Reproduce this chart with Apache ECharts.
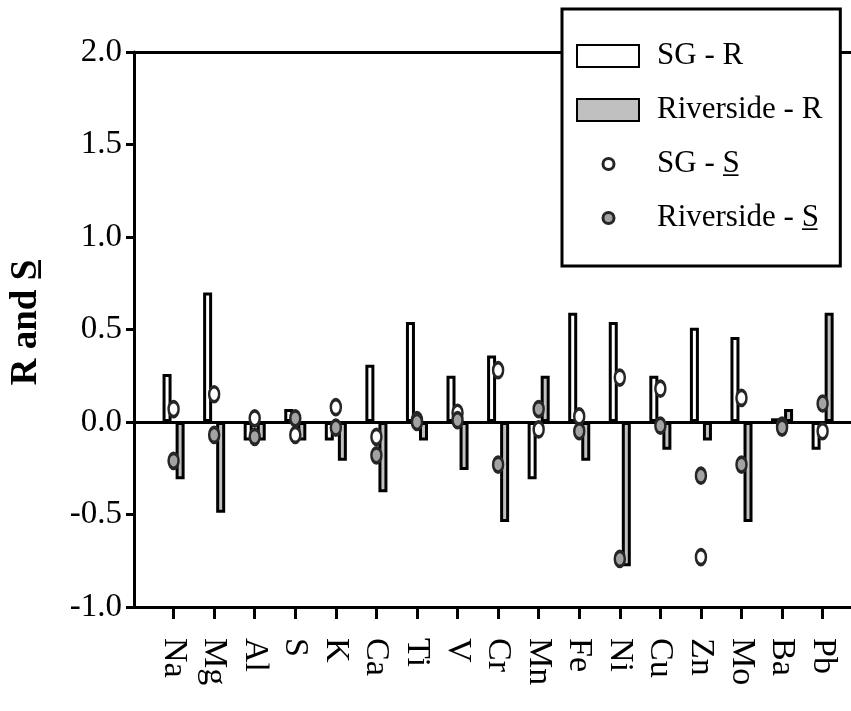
<!DOCTYPE html>
<html>
<head>
<meta charset="utf-8">
<title>R and S by element</title>
<script src="https://cdn.jsdelivr.net/npm/echarts@6/dist/echarts.min.js"></script>
<style>
  html, body { margin: 0; padding: 0; background: #fff; }
  #chart { width: 851px; height: 711px; }
</style>
</head>
<body>
<div id="chart"></div>
<script>
// Elements along the category axis
const categories = ['Na', 'Mg', 'Al', 'S', 'K', 'Ca', 'Ti', 'V', 'Cr', 'Mn', 'Fe', 'Ni', 'Cu', 'Zn', 'Mo', 'Ba', 'Pb'];

// R values (bars)
const sgR    = [0.26, 0.70, -0.10, 0.07, -0.10, 0.31, 0.54, 0.25, 0.36, -0.31, 0.59, 0.54, 0.25, 0.51, 0.46, 0.02, -0.15];
const rivR   = [-0.31, -0.49, -0.10, -0.10, -0.21, -0.38, -0.10, -0.26, -0.54, 0.25, -0.21, -0.78, -0.15, -0.10, -0.54, 0.07, 0.59];

// S values (points)
const sgS    = [0.07, 0.15, 0.02, -0.07, 0.08, -0.08, 0.01, 0.05, 0.28, -0.04, 0.03, 0.24, 0.18, -0.73, 0.13, -0.02, -0.05];
const rivS   = [-0.21, -0.07, -0.08, 0.02, -0.03, -0.18, 0.00, 0.01, -0.23, 0.07, -0.05, -0.74, -0.02, -0.29, -0.23, -0.03, 0.10];

// Value axis range and ticks
const yMin = -1, yMax = 2, yStep = 0.5;

const seriesNames = {
  sgR: 'SG - R',
  rivR: 'Riverside - R',
  sgS: 'SG - S\u0332',
  rivS: 'Riverside - S\u0332'
};

const FONT = 'Liberation Serif';
const black = '#000';
const ring = '#262626';

const chart = echarts.init(document.getElementById('chart'), null, { renderer: 'canvas' });

chart.setOption({
  animation: false,
  backgroundColor: '#fff',
  grid: [
    // frame: holds the value axis and the horizontal rules
    { left: 132, right: 0, top: 52, bottom: 104 },
    // data area: category bands for the elements
    { left: 153.3, right: 8.1, top: 52, bottom: 104 }
  ],
  xAxis: [
    { // rule at the top of the range
      gridIndex: 0, type: 'value', min: 0, max: 1, position: 'top',
      axisLine: { show: true, onZero: false, lineStyle: { color: black, width: 3 } },
      axisTick: { show: false }, axisLabel: { show: false }, splitLine: { show: false }
    },
    { // zero line
      gridIndex: 0, type: 'value', min: 0, max: 1, position: 'bottom',
      axisLine: { show: true, onZero: true, lineStyle: { color: black, width: 3 } },
      axisTick: { show: false }, axisLabel: { show: false }, splitLine: { show: false }
    },
    { // base line at the bottom of the range
      gridIndex: 0, type: 'value', min: 0, max: 1, position: 'bottom',
      axisLine: { show: true, onZero: false, lineStyle: { color: black, width: 3 } },
      axisTick: { show: false }, axisLabel: { show: false }, splitLine: { show: false }
    },
    { // element categories
      gridIndex: 1, type: 'category', data: categories, position: 'bottom',
      axisLine: { show: false, onZero: false },
      axisTick: { show: true, alignWithLabel: true, length: 12, lineStyle: { color: black, width: 3 } },
      axisLabel: {
        interval: 0, rotate: -90, margin: 31,
        fontFamily: FONT, fontSize: 34, color: black
      },
      splitLine: { show: false }
    }
  ],
  yAxis: [
    {
      gridIndex: 0, type: 'value', min: yMin, max: yMax, interval: yStep,
      name: 'R and S\u0332',
      nameLocation: 'middle', nameRotate: 90, nameGap: 89,
      nameTextStyle: { fontFamily: FONT, fontSize: 37, fontWeight: 'bold', color: black, padding: [0, 0, 0, 14] },
      axisLine: { show: true, onZero: false, lineStyle: { color: black, width: 3 } },
      axisTick: { show: true, inside: false, length: 8, lineStyle: { color: black, width: 3 } },
      axisLabel: {
        margin: 12, fontFamily: FONT, fontSize: 33, color: black,
        formatter: v => v.toFixed(1)
      },
      splitLine: { show: false }
    },
    {
      gridIndex: 1, type: 'value', min: yMin, max: yMax, interval: yStep, show: false
    }
  ],
  legend: [
    {
      data: [
        { name: seriesNames.sgR, icon: 'rect' },
        { name: seriesNames.rivR, icon: 'rect' }
      ],
      orient: 'vertical', left: 562, top: 9,
      itemWidth: 62, itemHeight: 22, itemGap: 20,
      padding: [30, 18, 139, 14],
      backgroundColor: '#fff', borderColor: black, borderWidth: 3, borderRadius: 0,
      selectedMode: false,
      textStyle: { fontFamily: FONT, fontSize: 31, lineHeight: 34, color: black, padding: [0, 0, 0, 13] }
    },
    {
      data: [
        { name: seriesNames.sgS, icon: 'circle', itemStyle: { color: '#fff', borderColor: ring, borderWidth: 3 } },
        { name: seriesNames.rivS, icon: 'circle', itemStyle: { color: '#a3a3a3', borderColor: ring, borderWidth: 3 } }
      ],
      orient: 'vertical', left: 601.5, top: 147,
      itemWidth: 11, itemHeight: 16, itemGap: 20,
      padding: 0, symbolKeepAspect: false,
      selectedMode: false,
      textStyle: { fontFamily: FONT, fontSize: 31, lineHeight: 34, color: black, padding: [0, 0, 0, 38] }
    }
  ],
  series: [
    {
      name: seriesNames.sgR, type: 'bar', xAxisIndex: 3, yAxisIndex: 1,
      data: sgR, barWidth: 9, barGap: '45%',
      itemStyle: { color: '#fff', borderColor: black, borderWidth: 3 }
    },
    {
      name: seriesNames.rivR, type: 'bar', xAxisIndex: 3, yAxisIndex: 1,
      data: rivR, barWidth: 9, barGap: '45%',
      itemStyle: { color: '#c0c0c0', borderColor: black, borderWidth: 3 }
    },
    {
      name: seriesNames.sgS, type: 'scatter', xAxisIndex: 3, yAxisIndex: 1,
      data: sgS, symbol: 'circle', symbolSize: [10, 15], symbolKeepAspect: false, z: 5,
      itemStyle: { color: '#fff', borderColor: ring, borderWidth: 3, opacity: 1 }
    },
    {
      name: seriesNames.rivS, type: 'scatter', xAxisIndex: 3, yAxisIndex: 1,
      data: rivS, symbol: 'circle', symbolSize: [10, 15], symbolKeepAspect: false, z: 5,
      itemStyle: { color: '#a3a3a3', borderColor: ring, borderWidth: 3, opacity: 1 }
    }
  ]
});
</script>
</body>
</html>
